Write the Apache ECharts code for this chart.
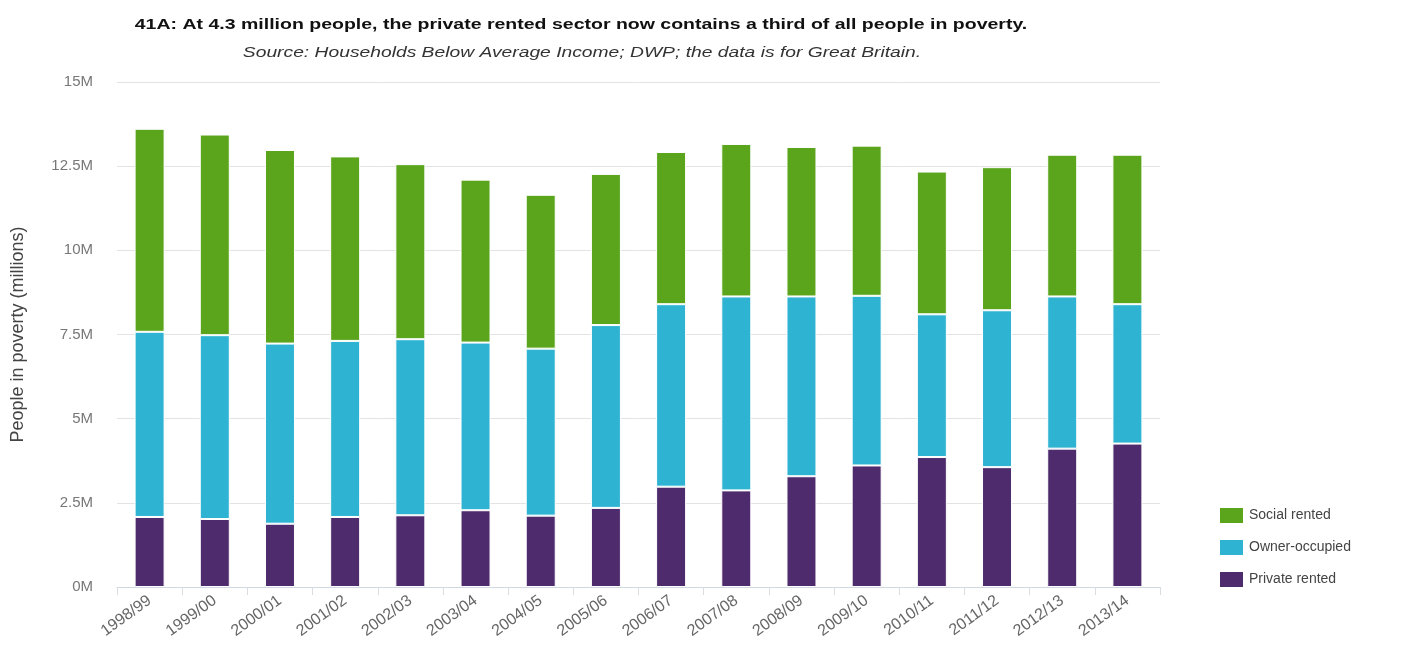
<!DOCTYPE html>
<html>
<head>
<meta charset="utf-8">
<script src="https://cdn.jsdelivr.net/npm/echarts@6/dist/echarts.min.js"></script>
<style>
html,body{margin:0;padding:0;background:#fff;}
#chart{width:1406px;height:653px;}
</style>
</head>
<body>
<div id="chart"></div>
<script>
var categories = ['1998/99','1999/00','2000/01','2001/02','2002/03','2003/04','2004/05','2005/06','2006/07','2007/08','2008/09','2009/10','2010/11','2011/12','2012/13','2013/14'];
var privateRented = [2.08, 2.02, 1.88, 2.08, 2.13, 2.28, 2.12, 2.35, 2.98, 2.87, 3.29, 3.61, 3.86, 3.56, 4.11, 4.26];
var ownerOccupied = [5.50, 5.46, 5.35, 5.23, 5.23, 4.98, 4.96, 5.43, 5.42, 5.76, 5.34, 5.04, 4.24, 4.66, 4.52, 4.14];
var socialRented = [6.03, 5.96, 5.75, 5.48, 5.20, 4.84, 4.57, 4.49, 4.52, 4.53, 4.44, 4.46, 4.24, 4.25, 4.21, 4.44];
var titleText = '41A: At 4.3 million people, the private rented sector now contains a third of all people in poverty.';
var subtitleText = 'Source: Households Below Average Income; DWP; the data is for Great Britain.';

var FONT = "'Liberation Sans', Arial, Helvetica, sans-serif";
var chart = echarts.init(document.getElementById('chart'));
var option = {
  backgroundColor: '#ffffff',
  animation: false,
  graphic: [{
    type: 'text', x: 581, y: 25, scaleX: 1.3, scaleY: 1,
    style: {text: titleText, fontFamily: FONT, fontSize: 15, fontWeight: 'bold', fill: '#111',
            align: 'center', verticalAlign: 'middle', textAlign: 'center', textVerticalAlign: 'middle'}
  }, {
    type: 'text', x: 582, y: 53, scaleX: 1.284, scaleY: 1,
    style: {text: subtitleText, fontFamily: FONT, fontSize: 15, fontStyle: 'italic', fill: '#333',
            align: 'center', verticalAlign: 'middle', textAlign: 'center', textVerticalAlign: 'middle'}
  }],
  legend: {
    orient: 'vertical',
    left: 1213, top: 501,
    itemWidth: 25, itemHeight: 17, itemGap: 13,
    icon: 'rect',
    data: ['Social rented', 'Owner-occupied', 'Private rented'],
    textStyle: {fontFamily: FONT, fontSize: 14, color: '#444'}
  },
  grid: {left: 117, right: 246, top: 82, bottom: 66, containLabel: false},
  xAxis: {
    type: 'category',
    data: categories,
    axisLine: {lineStyle: {color: '#d0d8e0', width: 1}},
    axisTick: {show: true, alignWithLabel: false, length: 8, lineStyle: {color: '#d8dde4'}},
    axisLabel: {rotate: 36, fontFamily: FONT, fontSize: 16, color: '#666', margin: 12, interval: 0}
  },
  yAxis: {
    type: 'value',
    min: 0, max: 15, interval: 2.5,
    name: 'People in poverty (millions)',
    nameLocation: 'middle', nameRotate: 90, nameGap: 90,
    nameTextStyle: {fontFamily: FONT, fontSize: 18, color: '#444'},
    axisLine: {show: false}, axisTick: {show: false},
    splitLine: {lineStyle: {color: '#e3e3e3', width: 1}},
    axisLabel: {
      fontFamily: FONT, fontSize: 15, color: '#777', margin: 24,
      formatter: function (v) { return v + 'M'; }
    }
  },
  series: [{
    name: 'Private rented', type: 'bar', stack: 'total', barWidth: 30,
    itemStyle: {color: '#4e2b6c', borderColor: '#ffffff', borderWidth: 1},
    data: privateRented
  }, {
    name: 'Owner-occupied', type: 'bar', stack: 'total', barWidth: 30,
    itemStyle: {color: '#2fb3d2', borderColor: '#ffffff', borderWidth: 1},
    data: ownerOccupied
  }, {
    name: 'Social rented', type: 'bar', stack: 'total', barWidth: 30,
    itemStyle: {color: '#5aa51b', borderColor: '#ffffff', borderWidth: 1},
    data: socialRented
  }]
};
chart.setOption(option);
</script>
</body>
</html>
